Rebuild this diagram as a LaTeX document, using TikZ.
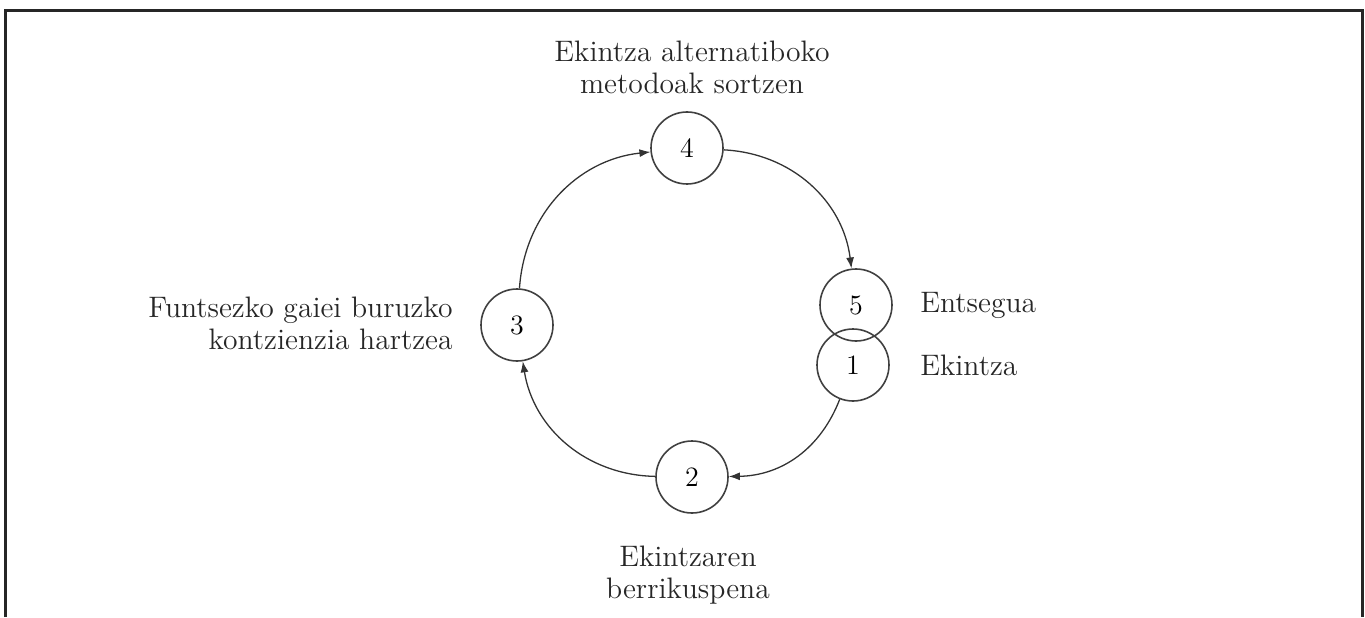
\documentclass[tikz,border=0pt]{standalone}
\usepackage{tikz}
\usetikzlibrary{arrows.meta}
\begin{document}
\begin{tikzpicture}[x=0.5pt,y=0.5pt,
  stage/.style={circle,draw=black!75,line width=0.8pt,minimum size=36pt,inner sep=0pt,font=\fontsize{14}{16}\selectfont},
  flow/.style={-{Latex[length=5.5pt,width=4pt]},draw=black!80,line width=0.65pt},
  lbl/.style={font=\fontsize{14.8}{16}\selectfont,text=black!85,inner sep=0pt}]
   \useasboundingbox (0,0) rectangle (1365,617);
   % frame, open at the bottom
   \draw[line width=1.5pt,black!85] (5.5,0) -- (5.5,606.5) -- (1362.5,606.5) -- (1362.5,0);
   % stages of the cycle
   \node[stage] (n4) at (687,469) {4};
   \node[stage] (n5) at (856,312) {5};
   \node[stage] (n1) at (853,252) {1};
   \node[stage] (n2) at (692,140) {2};
   \node[stage] (n3) at (517,292) {3};
   % labels
   \node[lbl,align=center] (t4) at (692,550) {Ekintza alternatiboko\\metodoak sortzen};
   \node[lbl,anchor=west] (t5) at (920,312) {Entsegua};
   \node[lbl,anchor=west] (t1) at (920,252) {Ekintza};
   \node[lbl,align=center] (t2) at (688,42) {Ekintzaren\\berrikuspena};
   \node[lbl,align=right,anchor=east] (t3) at (453,294) {Funtsezko gaiei buruzko\\kontzienzia hartzea};
   % arrows round the cycle
   \draw[flow] (n1) to[bend left=34] (n2);
   \draw[flow] (n2) to[bend left=40] (n3);
   \draw[flow] (n3) to[bend left=40] (n4);
   \draw[flow] (n4) to[bend left=40] (n5);
\end{tikzpicture}
\end{document}
